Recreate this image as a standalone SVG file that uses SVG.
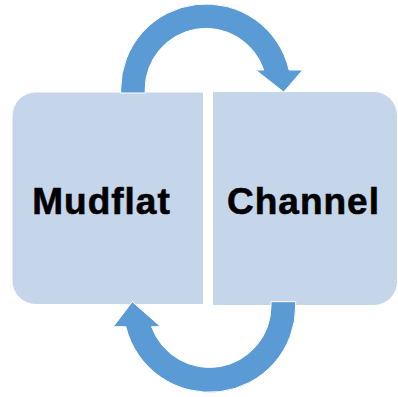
<svg xmlns="http://www.w3.org/2000/svg" width="398" height="397" viewBox="0 0 398 397">
  <style>
    .box { fill: #C5D5EA; stroke: #FFFFFF; stroke-width: 1; }
    .label { font-family: "Liberation Sans", Arial, sans-serif; font-weight: bold; font-size: 37px; letter-spacing: 1px; fill: #000000; stroke: #000000; stroke-width: 0.6; text-anchor: middle; }
    .arrow { fill: #5B9BD5; stroke: #FFFFFF; stroke-width: 1; stroke-linejoin: miter; }
  </style>
  <rect width="398" height="397" fill="#FFFFFF"/>

  <!-- Mudflat: rounded on the left side only -->
  <g id="mudflat">
    <path class="box" d="M 36 92 L 203.5 92 L 203.5 304.5 L 36 304.5 A 24 24 0 0 1 12 280.5 L 12 116 A 24 24 0 0 1 36 92 Z"/>
    <text class="label" x="101.5" y="214">Mudflat</text>
  </g>

  <!-- Channel: rounded on the right side only -->
  <g id="channel">
    <path class="box" d="M 212.5 91.5 L 373.5 91.5 A 24 24 0 0 1 397.5 115.5 L 397.5 281.5 A 24 24 0 0 1 373.5 305.5 L 212.5 305.5 Z"/>
    <text class="label" x="303.5" y="213.5">Channel</text>
  </g>

  <!-- curved exchange arrows -->
  <g id="connectors">
    <path class="arrow" d="M 120.7 93 L 120.7 89.3 A 85.3 85.3 0 0 1 289.1 70 L 302.7 70 L 283.7 92 L 255.7 70 L 263.7 70 A 60.8 60.8 0 0 0 145.2 89.3 L 145.2 93 Z"/>
    <path class="arrow" d="M 295.7 301.7 L 295.7 306 A 86.2 86.2 0 0 1 125.8 326.7 L 113.3 326.7 L 132.3 301.7 L 160.7 326.7 L 151.6 326.7 A 61.5 61.5 0 0 0 271 306 L 271 301.7 Z"/>
  </g>
</svg>
